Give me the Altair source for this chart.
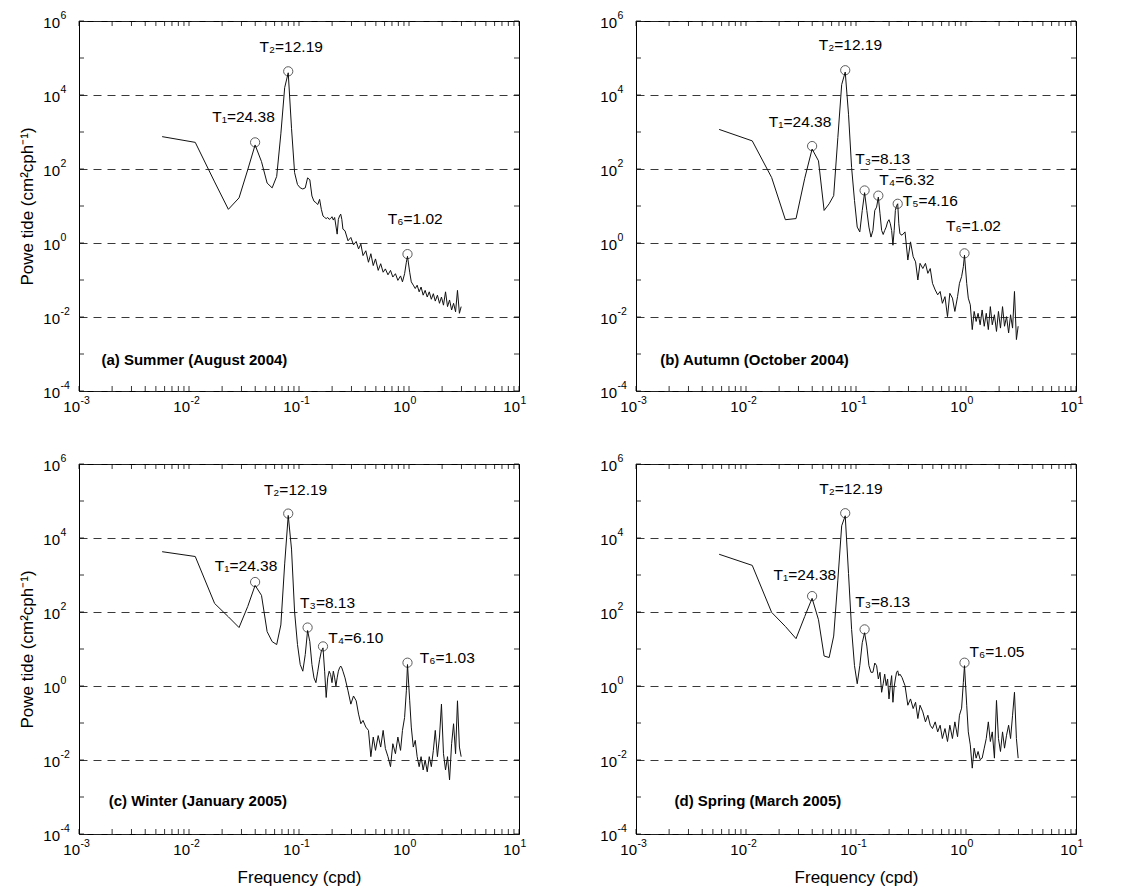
import altair as alt
import pandas as pd

FONT = "Liberation Sans"

# ---------------- data ----------------
# frequency axis (cycles per hour), shared by the four spectra
freq_cph = [
    0.0057, 0.0114, 0.0171, 0.0228, 0.0285, 0.0342, 0.0399, 0.0456, 0.0513, 0.0570,
    0.0627, 0.0684, 0.0741, 0.0798, 0.0855, 0.0912, 0.0969, 0.1026, 0.1083, 0.1140,
    0.1197, 0.1254, 0.1311, 0.1368, 0.1425, 0.1482, 0.1539, 0.1596, 0.1653, 0.1710,
    0.1767, 0.1824, 0.1881, 0.1938, 0.1995, 0.2052, 0.2109, 0.2166, 0.2223, 0.2280,
    0.2337, 0.2394, 0.2451, 0.2508, 0.262, 0.279, 0.296, 0.313, 0.331, 0.348,
    0.365, 0.382, 0.405, 0.428, 0.450, 0.473, 0.496, 0.525, 0.553, 0.582,
    0.610, 0.644, 0.679, 0.713, 0.753, 0.792, 0.838, 0.872, 0.912, 0.946,
    0.969, 1.015, 1.049, 1.094, 1.140, 1.186, 1.237, 1.288, 1.345, 1.402,
    1.465, 1.528, 1.596, 1.665, 1.733, 1.813, 1.893, 1.973, 2.058, 2.149,
    2.240, 2.337, 2.440, 2.542, 2.651, 2.759, 2.873, 2.980,
]

# power spectra, given as log10 of the power (cm^2 cph^-1)
summer_log10_power = [
    2.875, 2.72, 1.65, 0.91, 1.22, 1.98, 2.65, 2.2, 1.62, 1.49,
    1.80, 2.95, 4.2, 4.6, 3.1, 1.9, 1.58, 1.49, 1.46, 1.49,
    1.76, 1.71, 1.27, 1.13, 1.09, 1.04, 1.18, 0.91, 0.73, 0.69,
    0.66, 0.69, 0.64, 0.66, 0.71, 0.62, 0.69, 0.46, 0.24, 0.64,
    0.73, 0.78, 0.64, 0.375, 0.33, 0.06, 0.15, -0.05, 0.04, -0.16,
    -0.03, -0.34, -0.21, -0.52, -0.29, -0.61, -0.43, -0.74, -0.56, -0.79,
    -0.70, -0.86, -0.74, -0.92, -0.83, -1.01, -0.89, -1.05, -0.83, -0.52,
    -0.36, -0.79, -1.05, -1.14, -1.23, -1.14, -1.32, -1.19, -1.41, -1.28,
    -1.46, -1.32, -1.52, -1.37, -1.57, -1.41, -1.63, -1.46, -1.68, -1.32,
    -1.72, -1.54, -1.81, -1.63, -1.86, -1.28, -1.90, -1.72,
]
autumn_log10_power = [
    3.07, 2.76, 1.77, 0.63, 0.66, 1.75, 2.54, 2.22, 0.88, 1.06,
    1.28, 2.85, 4.28, 4.62, 3.48, 2.04, 1.15, 0.43, 0.30, 0.88,
    1.36, 0.88, 0.43, 0.16, 0.34, 0.88, 0.97, 1.24, 0.79, 0.34,
    0.23, 0.34, 0.43, 0.57, 0.63, 0.52, 0.34, -0.06, 0.34, 0.88,
    1.01, 1.06, 0.52, 0.25, 0.21, 0.30, -0.46, 0.03, -0.37, -0.51,
    -1.0, -0.55, -0.69, -0.55, -0.82, -0.69, -1.09, -1.27, -1.40, -1.31,
    -1.63, -1.45, -1.99, -1.36, -1.49, -1.85, -1.45, -1.09, -0.91, -0.64,
    -0.33, -1.09, -1.49, -1.67, -2.34, -1.85, -2.12, -1.90, -2.21, -1.81,
    -2.25, -1.90, -2.34, -1.72, -2.21, -1.94, -2.39, -1.85, -2.30, -1.72,
    -2.25, -1.99, -2.43, -1.94, -2.30, -1.31, -2.61, -2.25,
]
winter_log10_power = [
    3.63, 3.50, 2.23, 1.87, 1.58, 2.15, 2.72, 2.45, 1.47, 1.20,
    1.12, 1.65, 3.3, 4.61, 3.70, 2.0, 1.12, 0.58, 0.40, 0.85,
    1.50, 1.20, 0.58, 0.22, 0.09, 0.40, 0.71, 0.94, 1.03, 0.40,
    -0.31, 0.22, 0.40, 0.31, 0.09, 0.40, 0.22, 0.0, 0.22, 0.40,
    0.49, 0.54, 0.49, 0.40, 0.22, -0.13, -0.49, -0.27, -0.40, -0.76,
    -1.02, -0.93, -1.11, -1.20, -1.91, -1.38, -1.74, -1.34, -1.65, -1.20,
    -1.69, -1.91, -2.18, -1.56, -1.83, -1.38, -1.74, -1.20, -0.85, -0.13,
    0.58, -0.40, -1.11, -1.65, -1.47, -1.91, -2.18, -1.91, -2.27, -2.0,
    -2.32, -1.91, -2.18, -1.74, -1.20, -1.91, -1.38, -0.49, -1.83, -2.27,
    -1.91, -2.54, -1.56, -1.02, -1.83, -0.40, -1.65, -1.91,
]
spring_log10_power = [
    3.56, 3.26, 1.99, 1.61, 1.28, 1.88, 2.37, 1.79, 0.81, 0.77,
    1.35, 2.86, 4.33, 4.60, 3.04, 1.53, 0.55, 0.06, 0.55, 1.17,
    1.44, 1.08, 0.55, 0.37, 0.37, 0.62, 0.55, 0.19, 0.37, -0.17,
    0.06, 0.32, 0.01, 0.19, -0.35, 0.01, 0.28, -0.44, -0.03, 0.19,
    0.37, 0.41, 0.28, 0.32, 0.23, 0.01, -0.52, -0.35, -0.61, -0.44,
    -0.88, -0.52, -0.70, -0.97, -0.79, -1.06, -1.15, -0.97, -1.24, -1.06,
    -1.42, -1.15, -1.50, -1.06, -1.42, -0.97, -1.37, -0.79, -0.60, 0.10,
    0.55, -0.52, -1.24, -1.59, -2.22, -1.68, -1.95, -1.77, -1.99, -1.95,
    -1.68, -1.42, -0.97, -1.50, -1.24, -1.95, -0.39, -1.42, -1.77, -1.24,
    -1.68, -1.33, -1.06, -1.42, -0.79, -0.17, -1.42, -1.95,
]

# marked peaks (circle positions) and their labels
a_peak_freq = [0.0399, 0.0798, 0.969]
a_peak_log10 = [2.72, 4.64, -0.30]
a_peak_text = ["T₁=24.38", "T₂=12.19", "T₆=1.02"]
a_text_freq = [0.0313, 0.085, 1.14]
a_text_log10 = [3.41, 5.29, 0.66]

b_peak_freq = [0.0399, 0.0798, 0.1197, 0.1596, 0.2394, 0.969]
b_peak_log10 = [2.62, 4.67, 1.42, 1.28, 1.06, -0.28]
b_peak_text = ["T₁=24.38", "T₂=12.19", "T₃=8.13", "T₄=6.32", "T₅=4.16", "T₆=1.02"]
b_text_freq = [0.031, 0.089, 0.175, 0.29, 0.474, 1.17]
b_text_log10 = [3.28, 5.36, 2.27, 1.70, 1.13, 0.45]

c_peak_freq = [0.0399, 0.0798, 0.1197, 0.1653, 0.969]
c_peak_log10 = [2.81, 4.66, 1.58, 1.07, 0.63]
c_peak_text = ["T₁=24.38", "T₂=12.19", "T₃=8.13", "T₄=6.10", "T₆=1.03"]
c_text_freq = [0.033, 0.093, 0.182, 0.328, 2.23]
c_text_log10 = [3.25, 5.30, 2.23, 1.30, 0.76]

d_peak_freq = [0.0399, 0.0798, 0.1197, 0.969]
d_peak_log10 = [2.43, 4.67, 1.53, 0.63]
d_peak_text = ["T₁=24.38", "T₂=12.19", "T₃=8.13", "T₆=1.05"]
d_text_freq = [0.0343, 0.090, 0.175, 1.91]
d_text_log10 = [3.0, 5.33, 2.26, 0.92]

panel_titles = [
    "(a) Summer (August 2004)",
    "(b) Autumn (October 2004)",
    "(c) Winter (January 2005)",
    "(d) Spring (March 2005)",
]
panel_title_freq = [0.0016, 0.00166, 0.00186, 0.00224]
panel_title_log10 = [-3.15, -3.15, -3.12, -3.1]

# axis ticks and their labels (base 10 with a raised exponent)
x_major = [0.001, 0.01, 0.1, 1.0, 10.0]
x_major_exponent = ["-3", "-2", "-1", "0", "1"]
y_major = [1e-4, 1e-2, 1.0, 1e2, 1e4, 1e6]
y_major_exponent = ["-4", "-2", "0", "2", "4", "6"]
label_base = "10"
x_minor = [m * 10.0 ** e for e in range(-3, 1) for m in range(1, 10)] + [10.0]
y_decades = [10.0 ** e for e in range(-4, 7)]

y_title = "Powe tide (cm²cph⁻¹)"
x_title = "Frequency (cpd)"

# ---------------- chart ----------------
W, H = 440, 370
TICK = 5

xs = alt.Scale(type="log", domain=[1e-3, 10], nice=False)
ys = alt.Scale(type="log", domain=[1e-4, 1e6], nice=False)

xmaj_df = pd.DataFrame({"v": x_major, "base": [label_base] * len(x_major), "exp": x_major_exponent})
ymaj_df = pd.DataFrame({"v": y_major, "base": [label_base] * len(y_major), "exp": y_major_exponent})
xmin_df = pd.DataFrame({"v": x_minor})
ydec_df = pd.DataFrame({"v": y_decades})


def make_panel(log_power, pk_f, pk_l, pk_t, tx_f, tx_l, idx, left, bottom):
    spec = pd.DataFrame({"freq": freq_cph, "power": [10.0 ** v for v in log_power]})
    peaks = pd.DataFrame({
        "freq": pk_f,
        "power": [10.0 ** v for v in pk_l],
        "tfreq": tx_f,
        "tpower": [10.0 ** v for v in tx_l],
        "label": pk_t,
    })
    tag = pd.DataFrame({
        "freq": [panel_title_freq[idx]],
        "power": [10.0 ** panel_title_log10[idx]],
        "label": [panel_titles[idx]],
    })

    x_axis_kw = dict(values=x_major, labels=False, ticks=False, domain=False, grid=False)
    if bottom:
        x_axis_kw.update(title=x_title, titleFontSize=17, titleFont=FONT,
                         titleFontWeight="normal", titleColor="black", titlePadding=35)
    else:
        x_axis_kw.update(title=None)
    y_axis_kw = dict(
        values=y_major, labels=False, ticks=False, domain=False, grid=True,
        gridDash=[8, 6], gridColor="#222222", gridWidth=0.9,
    )
    if left:
        y_axis_kw.update(title=y_title, titleFontSize=17, titleFont=FONT,
                         titleFontWeight="normal", titleColor="black", titlePadding=43)
    else:
        y_axis_kw.update(title=None)

    line = alt.Chart(spec).mark_line(color="#111111", strokeWidth=1.0).encode(
        x=alt.X("freq:Q", scale=xs, axis=alt.Axis(**x_axis_kw)),
        y=alt.Y("power:Q", scale=ys, axis=alt.Axis(**y_axis_kw)),
    )

    # inward tick marks on all four sides
    tick_style = dict(color="black", strokeWidth=0.8)
    xt_bottom = alt.Chart(xmin_df).mark_rule(**tick_style).encode(
        x=alt.X("v:Q", scale=xs, axis=None), y=alt.value(H), y2=alt.value(H - TICK))
    xt_top = alt.Chart(xmin_df).mark_rule(**tick_style).encode(
        x=alt.X("v:Q", scale=xs, axis=None), y=alt.value(0), y2=alt.value(TICK))
    yt_left = alt.Chart(ydec_df).mark_rule(**tick_style).encode(
        y=alt.Y("v:Q", scale=ys, axis=None), x=alt.value(0), x2=alt.value(TICK))
    yt_right = alt.Chart(ydec_df).mark_rule(**tick_style).encode(
        y=alt.Y("v:Q", scale=ys, axis=None), x=alt.value(W), x2=alt.value(W - TICK))

    # tick labels: "10" with a raised exponent
    xl_base = alt.Chart(xmaj_df).mark_text(
        font=FONT, fontSize=15, color="black", align="right", baseline="middle", dx=1, dy=16
    ).encode(x=alt.X("v:Q", scale=xs, axis=None), y=alt.value(H), text="base:N")
    xl_exp = alt.Chart(xmaj_df).mark_text(
        font=FONT, fontSize=10.5, color="black", align="left", baseline="middle", dx=1.5, dy=10
    ).encode(x=alt.X("v:Q", scale=xs, axis=None), y=alt.value(H), text="exp:N")
    yl_base = alt.Chart(ymaj_df).mark_text(
        font=FONT, fontSize=15, color="black", align="right", baseline="middle", dx=-19, dy=2
    ).encode(y=alt.Y("v:Q", scale=ys, axis=None), x=alt.value(0), text="base:N")
    yl_exp = alt.Chart(ymaj_df).mark_text(
        font=FONT, fontSize=10.5, color="black", align="left", baseline="middle", dx=-18.5, dy=-5.5
    ).encode(y=alt.Y("v:Q", scale=ys, axis=None), x=alt.value(0), text="exp:N")

    circles = alt.Chart(peaks).mark_point(
        shape="circle", filled=False, size=85, color="black", strokeWidth=0.9
    ).encode(
        x=alt.X("freq:Q", scale=xs, axis=None),
        y=alt.Y("power:Q", scale=ys, axis=None),
    )
    texts = alt.Chart(peaks).mark_text(
        font=FONT, fontSize=15.5, color="black", align="center", baseline="middle"
    ).encode(
        x=alt.X("tfreq:Q", scale=xs, axis=None),
        y=alt.Y("tpower:Q", scale=ys, axis=None),
        text="label:N",
    )
    tag_text = alt.Chart(tag).mark_text(
        font=FONT, fontSize=15, fontWeight="bold", color="black",
        align="left", baseline="middle"
    ).encode(
        x=alt.X("freq:Q", scale=xs, axis=None),
        y=alt.Y("power:Q", scale=ys, axis=None),
        text="label:N",
    )

    return alt.layer(
        line, xt_bottom, xt_top, yt_left, yt_right,
        xl_base, xl_exp, yl_base, yl_exp, circles, texts, tag_text,
    ).resolve_axis(x="independent", y="independent").properties(width=W, height=H)


pa = make_panel(summer_log10_power, a_peak_freq, a_peak_log10, a_peak_text,
                a_text_freq, a_text_log10, 0, True, False)
pb = make_panel(autumn_log10_power, b_peak_freq, b_peak_log10, b_peak_text,
                b_text_freq, b_text_log10, 1, False, False)
pc = make_panel(winter_log10_power, c_peak_freq, c_peak_log10, c_peak_text,
                c_text_freq, c_text_log10, 2, True, True)
pd_ = make_panel(spring_log10_power, d_peak_freq, d_peak_log10, d_peak_text,
                 d_text_freq, d_text_log10, 3, False, True)

chart = alt.concat(
    pa, pb, pc, pd_, columns=2, spacing={"row": 73, "column": 117}, bounds="flush"
).properties(
    padding={"left": 17, "top": 10, "right": 5, "bottom": 5},
    background="white",
).configure_view(stroke="black", strokeWidth=1)

chart.save("out.html", embed_options={"renderer": "svg", "actions": False})
